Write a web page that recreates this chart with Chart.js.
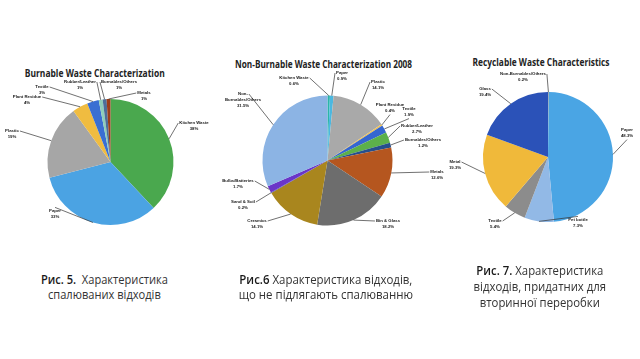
<!DOCTYPE html>
<html><head><meta charset="utf-8">
<script src="https://cdn.jsdelivr.net/npm/chart.js@4"></script>
<style>
html,body{margin:0;padding:0;background:#fff;}
body{width:640px;height:359px;position:relative;overflow:hidden;font-family:'Open Sans','Noto Sans',sans-serif;}
canvas{position:absolute;}
.fit{position:absolute;white-space:nowrap;text-align:center;transform-origin:50% 50%;}
.fit span{display:block;}
.title{font-weight:bold;font-size:10px;color:#222;line-height:12px;}
.cap{font-size:13px;color:#333;line-height:15px;}
.cap b{font-weight:600;color:#1a1a1a;}
</style></head><body>
<div class="fit title" data-cx="95" data-top="67" data-w="140"><span>Burnable Waste Characterization</span></div>
<div class="fit title" data-cx="323.5" data-top="58" data-w="177"><span>Non-Burnable Waste Characterization 2008</span></div>
<div class="fit title" data-cx="541.5" data-top="56" data-w="137"><span>Recyclable Waste Characteristics</span></div>
<canvas id="c1" width="215" height="195" style="left:0;top:50px"></canvas>
<canvas id="c2" width="240" height="195" style="left:212px;top:50px"></canvas>
<canvas id="c3" width="200" height="195" style="left:440px;top:50px"></canvas>
<div class="fit cap" data-cx="104.5" data-top="272" data-w="127"><span><b>Рис. 5.</b>&nbsp; Характеристика</span><span>спалюваних відходів</span></div>
<div class="fit cap" data-cx="326" data-top="272" data-w="173"><span><b>Рис.6</b> Характеристика відходів,</span><span>що не підлягають спалюванню</span></div>
<div class="fit cap" data-cx="540" data-top="262" data-w="127" style="line-height:16px"><span><b>Рис. 7.</b> Характеристика</span><span>відходів, придатних для</span><span>вторинної переробки</span></div>
<script>
// ---- Data ----
const burnLabels = ['Kitchen Waste','Paper','Plastic','Plant Residue','Textile','Rubber/Leather','Burnables/Others','Metals'];
const burnValues = [38,33,19,4,3,1,1,1];
const burnColors = ['#4aa84e','#4ba3e3','#a6a6a6','#f0bc40','#3a6fd2','#8fcfb9','#4d6f9a','#9c3f1a'];

const nonBurnLabels = ['Kitchen Waste','Paper','Plastic','Plant Residue','Textile','Rubber/Leather','Burnables/Others','Metals','Bin & Glass','Ceramics','Sand & Soil','Bulbs/Batteries','Non-\nBurnables/Others'];
const nonBurnValues = [0.6,0.9,14.1,0.4,1.9,2.7,1.2,12.6,18.2,14.1,0.2,1.7,31.5];
const nonBurnColors = ['#2bb5a8','#4bb8e0','#a9a9a9','#f2c14e','#3566d0','#5cb04a','#264f8c','#b5561f','#6d6d6d','#a9861e','#3f4ea0','#6a35c8','#8cb4e4'];

const recLabels = ['Non-Burnables/Others','Paper','Pet bottle','Textile','Metal','Glass'];
const recValues = [0.2,48.3,7.3,5.4,19.3,19.4];
const recColors = ['#9a9a9a','#4aa5e4','#92b9e6','#8c8c8c','#f0b93a','#2b52b8'];

// ---- Label placement (offset of first text line from pie centre, attach side) ----
const burnPlace = [[83.5,-39,'l'],[-55.5,49,'t'],[-98.5,-31,'r'],[-83.5,-65,'r'],[-68.5,-75,'r'],[-30.5,-80,'r'],[8.5,-80,'l'],[33.5,-69,'l']];
const nonBurnPlace = [[-33.5,-82.5,'r'],[14.5,-87.5,'l'],[50.5,-78.5,'l'],[62.5,-55.5,'b'],[81.5,-51.5,'b'],[89.5,-34.5,'l'],[95.5,-20.5,'l'],[109.5,11.5,'l'],[60.5,60.5,'l'],[-70.5,60.5,'r'],[-84.5,41.5,'r'],[-89.5,20.5,'r'],[-84.5,-66.5,'r']];
const recPlace = [[-25,-83,'r'],[79,-27,'b'],[30,63,'t'],[-53,64,'r'],[-93,5,'r'],[-63,-68,'r']];

// fit text blocks horizontally (styling only)
document.querySelectorAll('.fit').forEach(el=>{
  let nat = 0;
  el.querySelectorAll('span').forEach(s=>{
    const r = document.createRange(); r.selectNodeContents(s);
    nat = Math.max(nat, r.getBoundingClientRect().width);
  });
  const first = el.querySelector('span');
  const r0 = document.createRange(); r0.selectNodeContents(first);
  const w0 = r0.getBoundingClientRect().width;
  const k = (+el.dataset.w) / w0;
  el.style.width = nat + 'px';
  el.style.left = (+el.dataset.cx - nat/2) + 'px';
  el.style.top = el.dataset.top + 'px';
  el.style.transform = 'scaleX(' + k + ')';
});

const leader = {
  id:'leader',
  afterDatasetsDraw(chart, args, o){
    const ctx = chart.ctx;
    const meta = chart.getDatasetMeta(0);
    const vals = chart.data.datasets[0].data;
    ctx.save();
    ctx.font = o.font;
    ctx.textAlign = 'center';
    ctx.textBaseline = 'middle';
    ctx.fillStyle = '#1a1a1a';
    ctx.strokeStyle = '#333';
    ctx.lineWidth = 0.7;
    const lh = o.lh;
    meta.data.forEach((arc,i)=>{
      const p = arc.getProps(['x','y','startAngle','endAngle','outerRadius'], true);
      const a = (p.startAngle + p.endAngle)/2;
      const ax = p.x + Math.cos(a)*p.outerRadius;
      const ay = p.y + Math.sin(a)*p.outerRadius;
      const [dx,dy,side] = o.place[i];
      const lines = chart.data.labels[i].split('\n').concat([vals[i].toFixed(o.dec)+'%']);
      const tx = p.x + dx, ty = p.y + dy;
      let bx, by;
      if (side==='l'){ bx = tx - ctx.measureText(lines[0]).width/2 - 1; by = ty; }
      else if (side==='r'){ bx = tx + ctx.measureText(lines[0]).width/2 + 1; by = ty; }
      else if (side==='t'){ bx = tx; by = ty - lh*0.6; }
      else { bx = tx; by = ty + (lines.length-1)*lh + lh*0.6; }
      ctx.beginPath(); ctx.moveTo(ax,ay); ctx.lineTo(bx,by); ctx.stroke();
      lines.forEach((t,k)=>ctx.fillText(t, tx, ty + k*lh));
    });
    ctx.restore();
  }
};

function pad(w,h,cx,cy,r){ return {left:cx-r, right:w-cx-r, top:cy-r, bottom:h-cy-r}; }

function makePie(id, labels, values, colors, place, dec, geom){
  const cv = document.getElementById(id);
  new Chart(cv, {
    type:'pie',
    data:{labels:labels, datasets:[{data:values, backgroundColor:colors, borderWidth:0}]},
    options:{
      responsive:false, animation:false, events:[],
      layout:{padding:pad(cv.width,cv.height,geom[0],geom[1],geom[2])},
      plugins:{legend:{display:false}, tooltip:{enabled:false},
        leader:{place:place, dec:dec, font:"bold 4.3px 'Liberation Sans',Arial,sans-serif", lh:6}}
    },
    plugins:[leader]
  });
}
makePie('c1', burnLabels, burnValues, burnColors, burnPlace, 0, [110.5,112,63]);
makePie('c2', nonBurnLabels, nonBurnValues, nonBurnColors, nonBurnPlace, 1, [115.5,110.5,65]);
makePie('c3', recLabels, recValues, recColors, recPlace, 1, [108,107,65]);
</script>
</body></html>
